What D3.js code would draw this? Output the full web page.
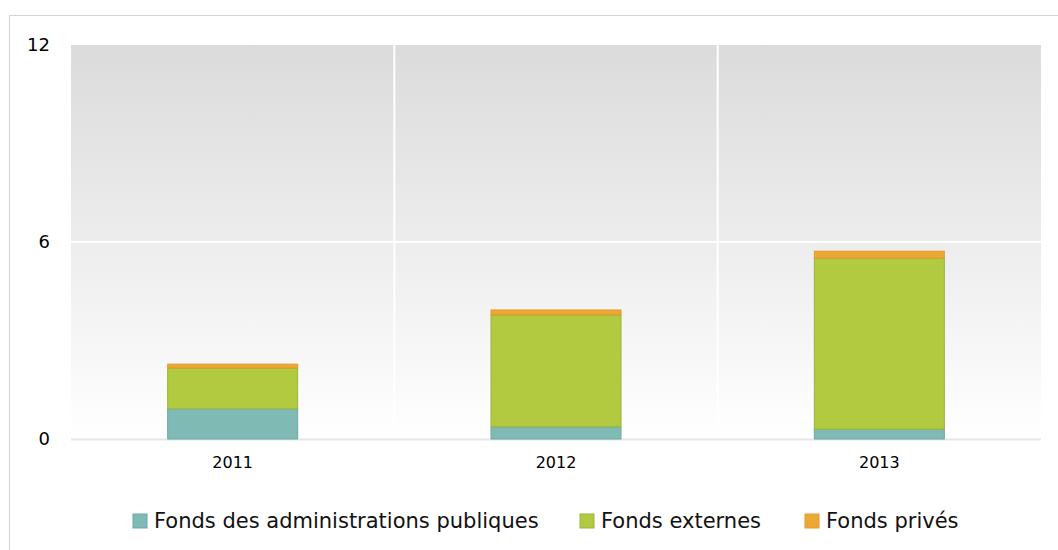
<!DOCTYPE html>
<html>
<head>
<meta charset="utf-8">
<script src="https://cdn.jsdelivr.net/npm/d3@7"></script>
<style>
  body { margin: 0; background: #fff; }
  svg { display: block; font-family: "DejaVu Sans", Verdana, sans-serif; }
</style>
</head>
<body>
<svg id="chart" width="1058" height="550"></svg>
<script>
const years = ['2011', '2012', '2013'];
const seriesNames = ['Fonds des administrations publiques', 'Fonds externes', 'Fonds privés'];
const publicFunds = [0.92, 0.37, 0.30];
const externalFunds = [1.24, 3.41, 5.21];
const privateFunds = [0.12, 0.15, 0.21];
const yTicks = [0, 6, 12];

const colors = ['#80bab5', '#b2ca40', '#eba835'];
const strokes = ['#6aa8a6', '#9bb338', '#e49a2c'];

const svg = d3.select('#chart');
const margin = { top: 45, right: 17, bottom: 111, left: 71 };
const width = 1058 - margin.left - margin.right;
const height = 550 - margin.top - margin.bottom;

// outer frame
svg.append('rect')
  .attr('x', 9.5).attr('y', 15.5)
  .attr('width', 1060).attr('height', 560)
  .attr('fill', 'none').attr('stroke', '#d4d4d4');

const defs = svg.append('defs');
const grad = defs.append('linearGradient')
  .attr('id', 'bg').attr('x1', 0).attr('y1', 0).attr('x2', 0).attr('y2', 1);
grad.append('stop').attr('offset', '0%').attr('stop-color', '#dbdbdb');
grad.append('stop').attr('offset', '100%').attr('stop-color', '#ffffff');

const g = svg.append('g').attr('transform', `translate(${margin.left},${margin.top})`);

g.append('rect').attr('width', width).attr('height', height).attr('fill', 'url(#bg)');

const x = d3.scaleBand().domain(years).range([0, width]).paddingInner(0).paddingOuter(0);
const y = d3.scaleLinear().domain([0, 12]).range([height, 0]);

// grid lines
g.selectAll('.hgrid').data(yTicks.filter(d => d > 0 && d < 12)).enter().append('line')
  .attr('x1', 0).attr('x2', width)
  .attr('y1', d => y(d)).attr('y2', d => y(d))
  .attr('stroke', '#ffffff').attr('stroke-width', 2);

g.selectAll('.vgrid').data(years.slice(1)).enter().append('line')
  .attr('x1', d => x(d)).attr('x2', d => x(d))
  .attr('y1', 0).attr('y2', height)
  .attr('stroke', '#ffffff').attr('stroke-width', 2);

// baseline
g.append('line')
  .attr('x1', 0).attr('x2', width)
  .attr('y1', height + 0.5).attr('y2', height + 0.5)
  .attr('stroke', '#e6e6e6').attr('stroke-width', 2);

const data = years.map((yr, i) => ({
  year: yr,
  s0: publicFunds[i],
  s1: externalFunds[i],
  s2: privateFunds[i]
}));

const stack = d3.stack().keys(['s0', 's1', 's2']);
const stacked = stack(data);

const barW = 130;

stacked.forEach((layer, k) => {
  g.selectAll('.bar' + k).data(layer).enter().append('rect')
    .attr('x', d => x(d.data.year) + x.bandwidth() / 2 - barW / 2)
    .attr('y', d => y(d[1]))
    .attr('width', barW)
    .attr('height', d => y(d[0]) - y(d[1]))
    .attr('fill', colors[k])
    .attr('stroke', strokes[k])
    .attr('stroke-width', 1);
});

// y axis labels
const yAxis = d3.axisLeft(y).tickValues(yTicks).tickSize(0).tickPadding(21);
g.append('g').call(yAxis)
  .call(s => s.select('.domain').remove())
  .selectAll('text')
  .attr('font-size', 18).attr('fill', '#000')
  .attr('font-family', '"DejaVu Sans", Verdana, sans-serif');

// x axis labels
const xAxis = d3.axisBottom(x).tickSize(0).tickPadding(18);
g.append('g').attr('transform', `translate(0,${height})`).call(xAxis)
  .call(s => s.select('.domain').remove())
  .selectAll('text')
  .attr('font-size', 16).attr('fill', '#000')
  .attr('font-family', '"DejaVu Sans", Verdana, sans-serif');

// legend
const legendX = [133, 580, 805];
const legend = svg.append('g').attr('transform', 'translate(0,521)');
seriesNames.forEach((name, i) => {
  const item = legend.append('g').attr('transform', `translate(${legendX[i]},0)`);
  item.append('rect').attr('x', 0).attr('y', -7).attr('width', 14).attr('height', 14)
    .attr('fill', colors[i]).attr('stroke', strokes[i]);
  item.append('text').attr('x', 21).attr('y', 0).attr('dy', '0.35em')
    .attr('font-size', 21).attr('fill', '#111').text(name);
});
</script>
</body>
</html>
